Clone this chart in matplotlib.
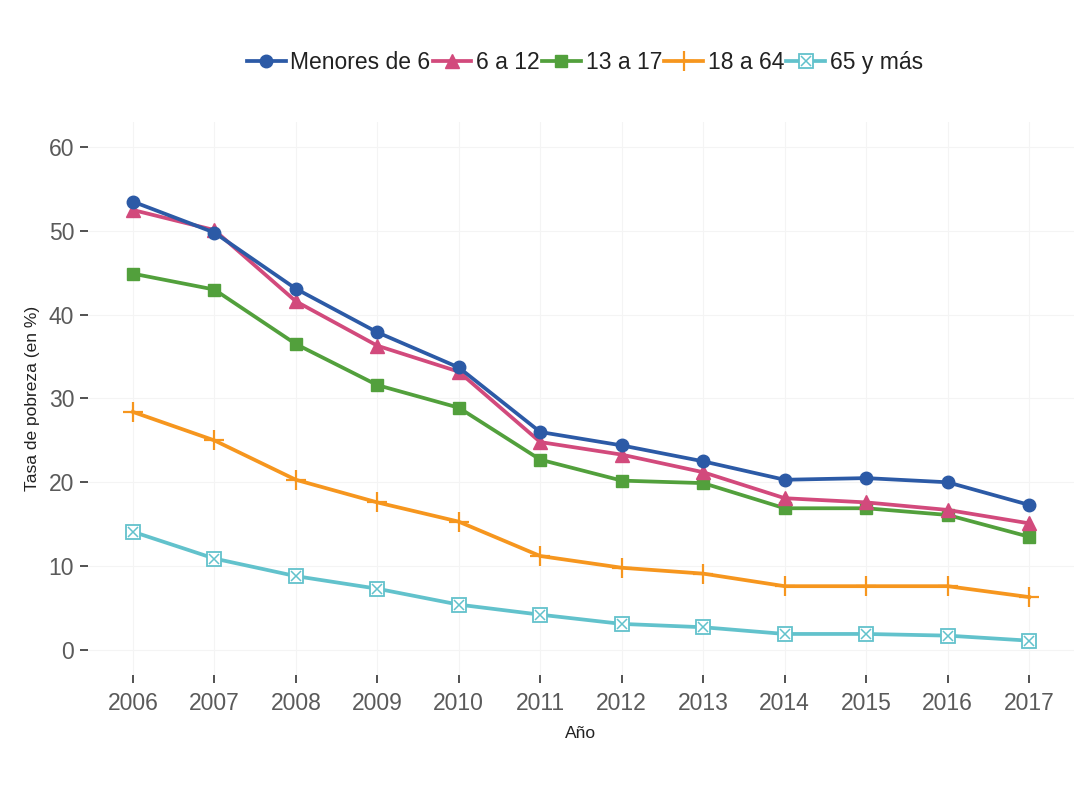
import matplotlib
matplotlib.use("Agg")
import matplotlib.pyplot as plt
from matplotlib.lines import Line2D
from matplotlib.legend_handler import HandlerTuple
from matplotlib import font_manager

names = {f.name for f in font_manager.fontManager.ttflist}
narrow = 'Liberation Sans Narrow' if 'Liberation Sans Narrow' in names else 'Liberation Sans'
plt.rcParams['font.family'] = ['Liberation Sans', 'DejaVu Sans']

years = [2006, 2007, 2008, 2009, 2010, 2011, 2012, 2013, 2014, 2015, 2016, 2017]
menores_6 = [53.5, 49.8, 43.1, 37.9, 33.7, 26.0, 24.4, 22.5, 20.3, 20.5, 20.0, 17.3]
de_6_a_12 = [52.5, 50.1, 41.6, 36.3, 33.2, 24.8, 23.3, 21.2, 18.1, 17.6, 16.7, 15.1]
de_13_a_17 = [44.9, 43.0, 36.5, 31.6, 28.9, 22.7, 20.2, 19.9, 16.9, 16.9, 16.1, 13.5]
de_18_a_64 = [28.4, 25.0, 20.3, 17.6, 15.3, 11.2, 9.8, 9.1, 7.6, 7.6, 7.6, 6.3]
mas_65 = [14.1, 10.9, 8.8, 7.3, 5.4, 4.2, 3.1, 2.7, 1.9, 1.9, 1.7, 1.1]

labels = ["Menores de 6", "6 a 12", "13 a 17", "18 a 64", "65 y más"]
y_ticks = [0, 10, 20, 30, 40, 50, 60]

c_blue = '#2c5aa6'
c_pink = '#d24a7c'
c_green = '#52a03c'
c_orange = '#f6961e'
c_cyan = '#62c2cc'

fig = plt.figure(figsize=(10.87, 7.87), dpi=100)
ax = fig.add_axes([0.081, 0.1423, 0.907, 0.7027])

lw = 2.7
h1, = ax.plot(years, menores_6, color=c_blue, lw=lw, marker='o', ms=9, zorder=5)
h2, = ax.plot(years, de_6_a_12, color=c_pink, lw=lw, marker='^', ms=10, zorder=4)
h3, = ax.plot(years, de_13_a_17, color=c_green, lw=lw, marker='s', ms=9, zorder=3)
h4, = ax.plot(years, de_18_a_64, color=c_orange, lw=lw, marker='+', ms=15, mew=1.6, zorder=3)
h5, = ax.plot(years, mas_65, color=c_cyan, lw=lw, marker='s', ms=10, mfc='white', mew=1.3, zorder=3)
h5x, = ax.plot(years, mas_65, color=c_cyan, lw=0, marker='x', ms=7, mew=1.1, zorder=3)

ax.set_xlim(2006 - 0.55, 2017 + 0.55)
ax.set_ylim(-3, 63)
ax.set_xticks(years)
ax.set_xticklabels([str(y) for y in years], family=[narrow, 'DejaVu Sans'])
ax.set_yticks(y_ticks)
ax.set_yticklabels([str(v) for v in y_ticks], family=[narrow, 'DejaVu Sans'])

for s in ax.spines.values():
    s.set_visible(False)
ax.grid(True, color='#f4f4f4', lw=0.8)
ax.set_axisbelow(True)
ax.tick_params(axis='both', colors='#333333', labelcolor='#5a5a5a', labelsize=16.5, length=6, width=1.2)
ax.tick_params(axis='x', pad=6)
ax.tick_params(axis='y', pad=4)

ax.set_xlabel("Año", fontsize=12.5, color='#222222', labelpad=8)
ax.set_ylabel("Tasa de pobreza (en %)", fontsize=12.5, color='#222222', labelpad=6)

handles = [h1, h2, h3, h4, (h5, h5x)]
fig.legend(handles, labels, loc='center', bbox_to_anchor=(0.538, 0.921), ncol=5,
           frameon=False, handlelength=1.7, handletextpad=0.2,
           columnspacing=0.1, labelcolor='#222222',
           prop={'family': [narrow, 'DejaVu Sans'], 'size': 16.5},
           handler_map={tuple: HandlerTuple(ndivide=1)})

fig.savefig("out.png", dpi=100)
